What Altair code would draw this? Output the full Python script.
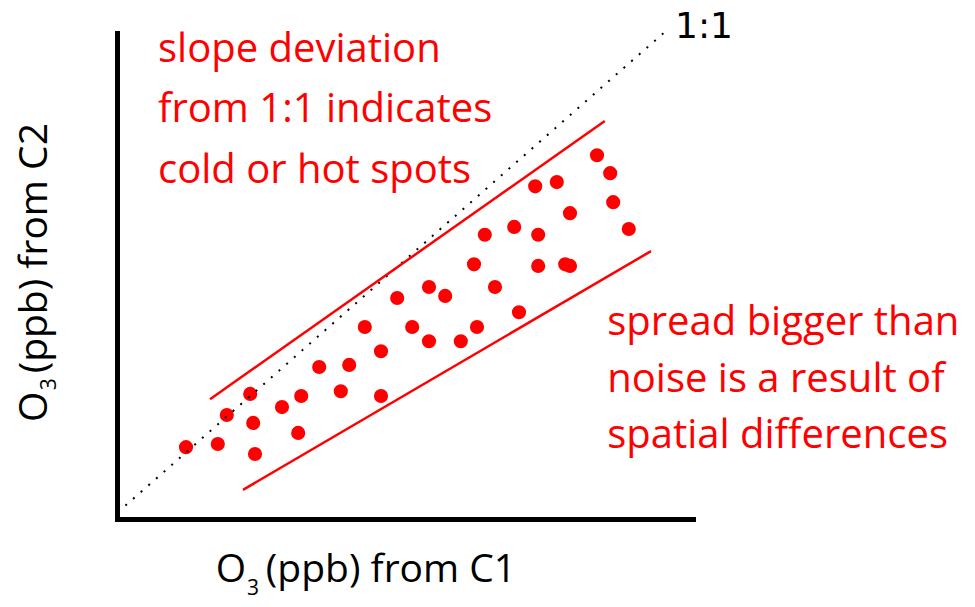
import altair as alt
import pandas as pd

# scatter points: O3 (ppb) from C1 vs from C2
c1 = [11.5, 16.8, 18.3, 22.2, 22.7, 23.0, 27.5, 30.2, 30.7, 33.7, 37.3, 38.7, 41.3,
      44.0, 44.0, 46.7, 49.2, 52.0, 52.0, 54.7, 57.3, 60.0, 59.5, 61.3, 63.0, 66.2,
      67.0, 69.7, 70.2, 70.2, 73.3, 75.5, 74.7, 75.5, 80.0, 82.2, 82.7, 85.3]
c2 = [12.5, 13.1, 18.6, 22.6, 17.1, 11.2, 20.1, 15.2, 22.2, 27.7, 23.1, 28.1, 35.3,
      30.7, 22.2, 40.8, 35.3, 42.9, 32.6, 41.2, 32.6, 35.3, 47.2, 52.8, 42.9, 54.3,
      38.1, 62.0, 52.8, 46.9, 62.8, 56.9, 47.2, 46.9, 67.9, 64.5, 59.0, 53.9]

# 1:1 reference line
one_x = [1.4, 91.2]
one_y = [1.4, 91.2]

# envelope lines (upper / lower)
env_id = ["upper", "upper", "lower", "lower"]
env_x = [15.5, 81.3, 21.0, 89.0]
env_y = [21.6, 74.4, 4.4, 49.7]

# annotation texts
left_lines = ["slope deviation", "from 1:1 indicates", "cold or hot spots"]
left_y = [85.6, 74.2, 62.6]
right_lines = ["spread bigger than", "noise is a result of", "spatial differences"]
right_y = [33.8, 23.0, 12.3]

FONT = "Open Sans"
RED = "#ff0000"

xs = alt.Scale(domain=[0, 96], nice=False, zero=False)
ys = alt.Scale(domain=[-1.14, 91.1], nice=False, zero=False)

pts = pd.DataFrame({"c1": c1, "c2": c2})
one = pd.DataFrame({"x": one_x, "y": one_y})
env = pd.DataFrame({"id": env_id, "x": env_x, "y": env_y})
lt = pd.DataFrame({"t": left_lines, "y": left_y, "x": [6.83] * 3})
rt = pd.DataFrame({"t": right_lines, "y": right_y, "x": [81.7] * 3})

noaxis = alt.Axis(labels=False, ticks=False, title=None, grid=False,
                  domainColor="black", domainWidth=5, domainCap="square")


def txt(df, font=FONT, **kw):
    return alt.Chart(df).mark_text(font=font, **kw).encode(
        x=alt.X("x:Q", scale=xs), y=alt.Y("y:Q", scale=ys), text="t:N")


points = alt.Chart(pts).mark_circle(size=200, color=RED, opacity=1).encode(
    x=alt.X("c1:Q", scale=xs, axis=noaxis),
    y=alt.Y("c2:Q", scale=ys, axis=noaxis),
)

oneline = alt.Chart(one).mark_line(color="black", strokeWidth=2, strokeDash=[2, 8.2]).encode(
    x=alt.X("x:Q", scale=xs), y=alt.Y("y:Q", scale=ys)
)

envl = alt.Chart(env).mark_line(color=RED, strokeWidth=2.5).encode(
    x=alt.X("x:Q", scale=xs), y=alt.Y("y:Q", scale=ys), detail="id:N"
)

ltext = txt(lt, align="left", baseline="alphabetic", fontSize=40, color=RED)
rtext = txt(rt, align="left", baseline="alphabetic", fontSize=40, color=RED)

lbl11 = txt(pd.DataFrame({"t": ["1:1"], "x": [93.0], "y": [90.2]}), font="DejaVu Sans",
            align="left", baseline="alphabetic", fontSize=36, color="black")

# x-axis title: O + subscript 3 + rest
xt_o = txt(pd.DataFrame({"t": ["O"], "x": [21.5], "y": [-13.1]}),
           align="right", baseline="alphabetic", fontSize=39, color="black")
xt_3 = txt(pd.DataFrame({"t": ["3"], "x": [21.65], "y": [-15.5]}),
           align="left", baseline="alphabetic", fontSize=21, color="black")
xt_r = txt(pd.DataFrame({"t": ["(ppb) from C1"], "x": [24.8], "y": [-13.1]}),
           align="left", baseline="alphabetic", fontSize=39, color="black")

# y-axis title (rotated)
yt_o = txt(pd.DataFrame({"t": ["O"], "x": [-11.67], "y": [23.05]}),
           align="right", baseline="alphabetic", fontSize=39, color="black", angle=270)
yt_3 = txt(pd.DataFrame({"t": ["3"], "x": [-10.2], "y": [23.3]}),
           align="left", baseline="alphabetic", fontSize=21, color="black", angle=270)
yt_r = txt(pd.DataFrame({"t": ["(ppb) from C2"], "x": [-11.67], "y": [26.5]}),
           align="left", baseline="alphabetic", fontSize=39, color="black", angle=270)

chart = alt.layer(points, oneline, envl, ltext, rtext, lbl11,
                  xt_o, xt_3, xt_r, yt_o, yt_3, yt_r).properties(
    width=576, height=486,
    autosize=alt.AutoSizeParams(type="none"),
    padding={"left": 109, "top": 25, "right": 274, "bottom": 80},
).configure_view(stroke=None, clip=False)

chart.save("out.html", embed_options={"renderer": "svg", "actions": False})
